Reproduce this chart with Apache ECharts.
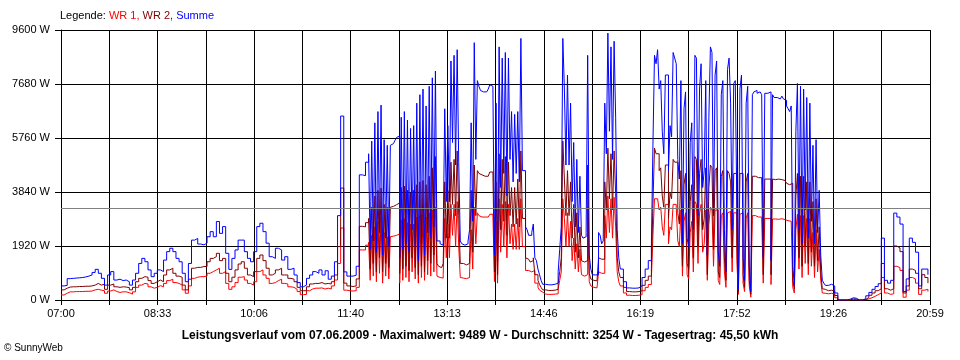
<!DOCTYPE html>
<html>
<head>
<meta charset="utf-8">
<script src="https://cdn.jsdelivr.net/npm/echarts@6/dist/echarts.min.js"></script>
<style>
html,body{margin:0;padding:0;background:#fff;}
#chart{width:960px;height:360px;}
</style>
</head>
<body>
<div id="chart"></div>
<script>
// sampling grid: [start minute after 07:00, end minute, step] (finer where the curve is spiky)
const sampleSegments = [[0,294,3],[297,463.5,1.5],[465,477,3],[480,538.5,1.5],[540,567,3],[570,736.5,1.5],[738,837,3]];
const xTickLabels = ['07:00','08:33','10:06','11:40','13:13','14:46','16:19','17:52','19:26','20:59'];
const yMax = 9600, yInterval = 1920;
const average = 3254;
const legendNames = ['WR 1', 'WR 2', 'Summe'];
const footerTitle = 'Leistungsverlauf vom 07.06.2009 - Maximalwert: 9489 W - Durchschnitt: 3254 W - Tagesertrag: 45,50 kWh';
const copyright = '\u00A9 SunnyWeb';

// Summe (blue)
const summe = [
500,520,760,770,780,790,800,820,850,890,
980,1090,950,770,530,890,1010,710,740,690,
710,650,530,710,950,1300,1480,1360,1070,830,
950,1070,1010,1420,1720,1840,1720,1480,1360,950,
650,1300,2130,2190,1990,1960,2020,2250,2430,2250,
2790,2370,2610,1660,1090,1480,1780,2130,2130,1720,
1480,1360,1720,2610,2730,2430,2020,1540,1480,1840,
1780,1420,1540,1090,1130,890,620,470,530,770,
890,1010,950,1070,890,1040,740,850,1360,3000,
6540,1000,850,850,880,1200,4450,4420,4900,
5200,1800,5650,2100,6300,1700,6700,2400,6930,1600,
5700,2200,5500,1900,5500,5560,5620,5680,5780,5830,
1500,6500,1800,6700,2000,6400,1700,6100,2500,6200,
1900,7000,1400,7300,2000,7500,1600,6900,2400,7600,
2200,7900,2600,8140,2100,2100,2000,1950,2300,6800,
3500,6200,3500,8500,5600,8700,4800,8900,4900,2100,
2000,1950,1950,2000,2100,2500,6300,2800,9150,5000,
7800,7600,7450,7400,7350,7400,7450,7500,7650,7600,
7500,1600,7000,1400,9000,4000,8600,4500,8800,3700,
8600,5000,6700,4200,6600,4500,6700,4200,9300,4600,
4600,2600,2500,2300,2300,2400,2700,1500,1400,1100,
900,700,
560,540,540,560,600,
1000,1800,2600,9300,7500,4800,8000,4800,7000,3500,
5600,2600,5000,2400,4400,2300,2200,2250,2400,8700,
1600,1100,900,890,880,900,2400,2300,2000,2100,
7000,5200,9489,6000,9000,5000,9200,6500,2500,1500,
1100,650,430,420,420,430,500,800,1100,1400,
1900,5500,8700,8400,8900,7500,7800,6000,5200,8000,
8000,4600,6200,5800,8800,8600,8400,5000,4300,7800,
2000,6800,7400,2200,1900,5600,6300,2500,8700,8600,
3000,7500,8400,4000,4600,7800,1600,6500,9000,8800,
3000,8000,8500,1700,1200,7300,7800,2500,1000,8200,
8600,7000,2500,7700,7800,3500,400,7500,8000,1500,
700,7000,7600,1200,300,7300,7400,7450,7350,7400,
7400,7300,1500,7350,7350,7400,7400,1400,7300,7200,
7200,7250,7150,7200,7250,7150,7100,6900,6800,6700,
6900,1200,550,6000,7700,2500,7600,2000,7500,3200,
7200,2200,7000,2800,5500,2000,5700,2400,3900,1600,
700,600,
520,560,500,250,0,0,0,30,80,60,
0,0,50,150,270,380,480,580,2200,700,
600,700,3090,2950,2700,300,750,2200,2050,1700,
500,1100,1100,900
];
// WR 2 (dark red)
const wr2 = [
360,420,460,470,470,480,480,490,490,500,
530,590,530,560,380,530,570,470,450,470,
460,440,360,450,650,770,830,810,690,590,
650,710,650,890,1070,1130,950,850,810,530,
360,740,1130,1160,1160,1190,1190,1360,1480,1540,
1660,1400,1480,950,650,810,1070,1280,1360,1130,
890,830,1010,1480,1600,1400,1130,890,950,1070,
1130,890,890,770,740,650,450,330,330,470,
570,590,590,620,570,590,570,650,890,1900,
3980,600,500,480,500,750,2620,2600,2750,
2900,1100,3300,1300,3700,1000,3900,1500,3980,1000,
3400,1300,3300,1150,3300,3330,3360,3390,3420,3450,
950,4000,1100,4050,1200,3900,1050,3800,1500,3900,
1150,4100,900,4200,1200,4250,1000,4100,1400,4400,
1300,4700,1600,5100,1300,1200,1150,1150,1300,4200,
2200,3900,2200,4900,3400,5000,3000,5300,3000,1300,
1300,1280,1250,1300,1300,1500,3900,1700,4800,3000,
4600,4500,4450,4400,4400,4400,4400,4450,4550,4550,
4500,1000,4200,900,5200,2500,5000,2800,5100,2300,
4900,3000,4000,2600,4000,2700,4300,2600,5300,2900,
2900,1500,1450,1400,1350,1400,1500,900,900,700,
550,450,
360,340,340,350,380,
600,1000,1500,5650,4300,3000,4600,3000,4200,2200,
3400,1700,3100,1500,2600,1400,1350,1380,1400,4800,
950,750,700,700,680,700,1500,1450,1400,1450,
4200,3200,5400,3600,5200,3200,5300,3800,1500,1000,
800,450,300,290,290,300,330,520,700,850,
1100,3400,5400,5200,5200,4600,4700,3700,3300,4800,
4800,2900,3800,3600,5000,4900,4900,3100,2700,4600,
1200,4100,4500,1300,1100,3500,4100,1500,5100,5000,
1900,4500,5000,2500,2900,4700,900,4000,4800,4700,
1800,4600,4700,1000,800,4400,4600,1500,700,4600,
4500,4200,1500,4500,4500,2100,300,4500,4500,900,
450,4200,4500,700,200,4400,4400,4400,4350,4350,
4350,4320,900,4300,4300,4300,4300,900,4300,4280,
4300,4300,4250,4280,4300,4250,4200,4150,4100,4100,
4150,700,400,3700,4500,1500,4400,1200,4400,1900,
4200,1300,4200,1700,3500,1200,3600,1400,2600,1000,
400,380,
330,350,320,160,0,0,0,0,40,30,
0,0,20,90,170,250,330,400,1300,400,
350,400,1920,1850,1720,250,500,1100,1050,950,
400,900,800,600
];
// WR 1 (red)
const wr1 = [
180,240,290,290,300,300,300,310,310,320,
360,380,350,330,240,320,360,300,270,290,
290,260,210,290,450,530,590,570,470,420,
450,510,470,590,690,740,620,590,530,360,
240,500,770,810,830,830,850,950,1010,1070,
1130,950,1010,590,380,470,620,810,830,710,
590,530,650,1010,1070,890,770,590,620,690,
740,590,570,470,450,380,300,190,200,330,
390,420,420,430,390,420,390,500,710,1300,
2560,350,330,320,330,450,1780,1780,1950,
2050,700,2300,850,2600,650,2800,950,2950,600,
2400,850,2250,750,2250,2270,2290,2300,2330,2350,
600,2850,700,2900,800,2750,650,2700,1000,2700,
750,2950,600,3000,800,3050,700,2950,900,3100,
850,3200,1000,3300,850,800,800,780,900,2900,
1500,2700,1500,3400,2300,3400,1900,3500,1900,800,
780,760,760,780,800,1000,2500,1100,3300,2000,
3100,3000,2950,2950,2950,2950,2950,3000,3050,3050,
3000,650,2800,600,3600,1700,3400,1900,3500,1500,
3400,2000,2700,1800,2700,1800,2900,1800,3600,1900,
1900,1050,1050,1000,1000,1000,1050,600,600,450,
350,280,
210,200,200,210,220,
400,700,1000,3600,2900,1900,3100,1900,2800,1400,
2200,1100,2000,1000,1800,900,850,870,900,3300,
650,500,450,450,430,450,1000,950,900,950,
3000,2200,3700,2400,3600,2200,3650,2600,1000,650,
500,250,170,160,160,170,190,330,450,550,
750,2300,3600,3600,3600,3200,3300,2600,2300,3400,
3400,2000,2600,2500,3400,3400,3300,2100,1900,3200,
850,2800,3100,900,750,2400,2800,1000,3500,3400,
1300,3100,3400,1700,2000,3200,700,2700,3300,3200,
1200,3200,3200,700,550,3000,3100,1000,450,3100,
3150,2900,1000,3100,3100,1400,200,3050,3100,600,
300,2900,3100,500,100,3000,3000,2980,2950,2950,
2950,2930,600,2900,2900,2900,2900,550,2880,2880,
2880,2870,2880,2890,2880,2860,2850,2820,2800,2800,
2800,450,250,2500,3050,1100,3000,800,3000,1300,
2900,900,2900,1200,2400,800,2500,1000,1800,700,
250,240,
220,240,200,80,0,0,0,0,20,10,
0,0,10,40,80,130,190,250,800,250,
200,220,1200,1150,1050,100,350,800,750,600,
200,350,380,300
];

const times = [];
sampleSegments.forEach(([a, b, s]) => { for (let t = a; t <= b + 1e-9; t += s) times.push(t); });
if (times.length !== summe.length || wr1.length !== summe.length || wr2.length !== summe.length) {
  console.error('length mismatch', times.length, summe.length, wr1.length, wr2.length);
}
const toPairs = arr => arr.map((v, i) => [times[i], v]);
const xInterval = 839 / 18;

const chart = echarts.init(document.getElementById('chart'), null, {renderer: 'canvas'});
const FONT = 'Liberation Sans';
chart.setOption({
  animation: false,
  backgroundColor: '#ffffff',
  textStyle: {fontFamily: FONT},
  grid: {left: 61, right: 30, top: 30, bottom: 60, containLabel: false},
  graphic: [
    {type: 'text', left: 60, top: 10, style: {
      rich: {
        k: {fill: '#000', fontSize: 11, fontFamily: FONT},
        a: {fill: '#ff0000', fontSize: 11, fontFamily: FONT},
        b: {fill: '#800000', fontSize: 11, fontFamily: FONT},
        c: {fill: '#0000ff', fontSize: 11, fontFamily: FONT}
      },
      text: '{k|Legende: }{a|' + legendNames[0] + ', }{b|' + legendNames[1] + ', }{c|' + legendNames[2] + '}'
    }},
    {type: 'text', left: 'center', top: 330, style: {
      text: footerTitle, fill: '#000', fontSize: 12, fontWeight: 'bold', fontFamily: FONT
    }},
    {type: 'text', left: 4, top: 343, style: {
      text: copyright, fill: '#000', fontSize: 10, fontFamily: FONT
    }}
  ],
  xAxis: {
    type: 'value', min: 0, max: 839, interval: xInterval,
    axisLine: {show: true, lineStyle: {color: '#000', width: 1}},
    axisTick: {show: true, length: 5, lineStyle: {color: '#000'}},
    axisLabel: {
      color: '#000', fontSize: 11, margin: 8, fontFamily: FONT,
      showMinLabel: true, showMaxLabel: true,
      formatter: v => {
        const k = Math.round(v / xInterval);
        return k % 2 === 0 ? (xTickLabels[k / 2] || '') : '';
      }
    },
    splitLine: {show: true, lineStyle: {color: '#000', width: 1}}
  },
  yAxis: {
    type: 'value', min: 0, max: yMax, interval: yInterval,
    axisLine: {show: true, lineStyle: {color: '#000', width: 1}},
    axisTick: {show: true, length: 6, lineStyle: {color: '#000'}},
    axisLabel: {color: '#000', fontSize: 11, margin: 11, fontFamily: FONT, formatter: v => v + ' W'},
    splitLine: {show: true, lineStyle: {color: '#000', width: 1}}
  },
  series: [
    {name: legendNames[0], type: 'line', data: toPairs(wr1), step: 'end', showSymbol: false,
     lineStyle: {color: '#ff0000', width: 1}, itemStyle: {color: '#ff0000'}, z: 2},
    {name: legendNames[1], type: 'line', data: toPairs(wr2), step: 'end', showSymbol: false,
     lineStyle: {color: '#800000', width: 1}, itemStyle: {color: '#800000'}, z: 3},
    {name: legendNames[2], type: 'line', data: toPairs(summe), step: 'end', showSymbol: false,
     lineStyle: {color: '#0000ff', width: 1}, itemStyle: {color: '#0000ff'}, z: 4,
     markLine: {silent: true, symbol: 'none', label: {show: false}, z: 10,
       lineStyle: {color: '#808080', width: 1, type: 'solid'},
       data: [{yAxis: average}]}}
  ]
});
</script>
</body>
</html>
